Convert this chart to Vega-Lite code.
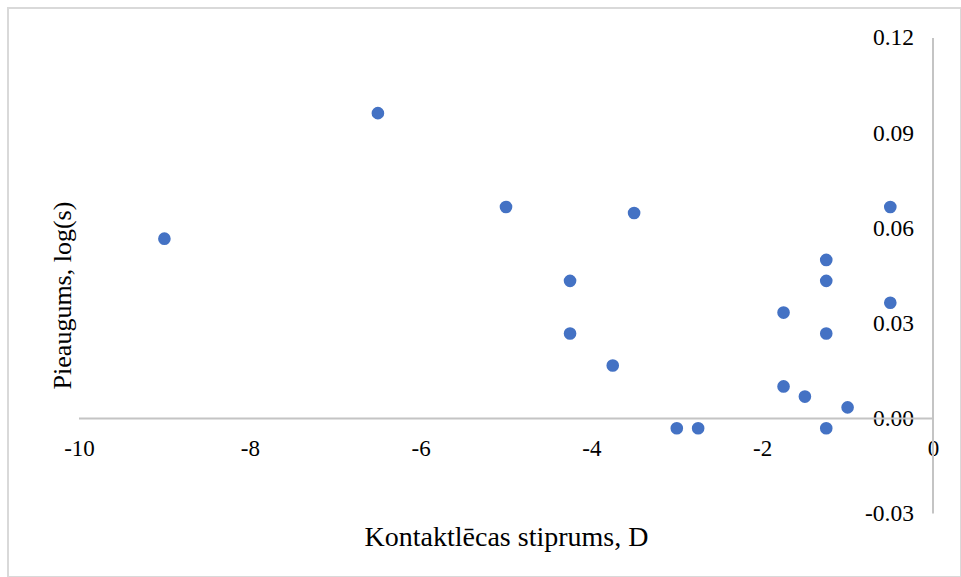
{
  "$schema": "https://vega.github.io/schema/vega-lite/v6.json",
  "width": 953,
  "height": 569,
  "autosize": {"type": "none"},
  "padding": {"left": 8, "top": 8, "right": 0, "bottom": 0},
  "background": "white",
  "config": {
    "view": {"stroke": "#d9d9d9", "strokeWidth": 2},
    "font": "Liberation Serif",
    "locale": {"number": {"decimal": ".", "thousands": ",", "grouping": [3], "currency": ["$", ""], "minus": "-"}}
  },
  "encoding": {
    "x": {
      "field": "x",
      "type": "quantitative",
      "scale": {"domain": [-10.8314, 0.3279], "nice": false, "zero": false},
      "axis": {
        "orient": "bottom",
        "offset": -158.5,
        "values": [-10, -8, -6, -4, -2, 0],
        "format": "d",
        "domain": false,
        "ticks": false,
        "tickSize": 0,
        "grid": false,
        "labelFont": "Liberation Serif",
        "labelFontSize": 23,
        "labelColor": "#000000",
        "labelBaseline": "middle",
        "labelPadding": 29.5,
        "labelOverlap": false,
        "labelFlush": false,
        "labelBound": false,
        "title": "Kontaktlēcas stiprums, D",
        "titleFont": "Liberation Serif",
        "titleFontSize": 28,
        "titleFontWeight": "normal",
        "titleColor": "#000000",
        "titleX": 498,
        "titleY": 118.5,
        "titleAlign": "center",
        "titleBaseline": "middle",
        "titleAngle": 0
      }
    },
    "y": {
      "field": "y",
      "type": "quantitative",
      "scale": {"domain": [-0.05, 0.12946], "nice": false, "zero": false},
      "axis": {
        "orient": "right",
        "offset": -28,
        "values": [-0.03, 0, 0.03, 0.06, 0.09, 0.12],
        "format": ".2f",
        "domain": false,
        "ticks": false,
        "tickSize": 0,
        "grid": false,
        "labelFont": "Liberation Serif",
        "labelFontSize": 23.5,
        "labelColor": "#000000",
        "labelAlign": "right",
        "labelBaseline": "middle",
        "labelPadding": -19.5,
        "labelOverlap": false,
        "labelFlush": false,
        "labelBound": false,
        "title": "Pieaugums, log(s)",
        "titleFont": "Liberation Serif",
        "titleFontSize": 26,
        "titleFontWeight": "normal",
        "titleColor": "#000000",
        "titleX": -871,
        "titleY": 287,
        "titleAngle": -90,
        "titleAlign": "center",
        "titleBaseline": "middle"
      }
    }
  },
  "layer": [
    {
      "data": {"values": [
        {"x": -10, "x2": 0, "y": 0, "y2": 0},
        {"x": 0, "x2": 0, "y": -0.03, "y2": 0.12}
      ]},
      "mark": {"type": "rule", "color": "#c4c4c4", "strokeWidth": 2},
      "encoding": {
        "x2": {"field": "x2"},
        "y2": {"field": "y2"}
      }
    },
    {
      "data": {"values": [
        {"x": -9, "y": 0.0567},
        {"x": -6.5, "y": 0.0963},
        {"x": -5, "y": 0.0667},
        {"x": -3.5, "y": 0.0648},
        {"x": -4.25, "y": 0.0434},
        {"x": -4.25, "y": 0.0268},
        {"x": -3.75, "y": 0.0167},
        {"x": -3, "y": -0.0031},
        {"x": -2.75, "y": -0.0031},
        {"x": -1.75, "y": 0.0334},
        {"x": -1.75, "y": 0.0101},
        {"x": -1.5, "y": 0.0069},
        {"x": -1.25, "y": 0.05},
        {"x": -1.25, "y": 0.0434},
        {"x": -1.25, "y": 0.0268},
        {"x": -1.25, "y": -0.0031},
        {"x": -1, "y": 0.0035},
        {"x": -0.5, "y": 0.0667},
        {"x": -0.5, "y": 0.0365}
      ]},
      "mark": {"type": "circle", "color": "#4472C4", "opacity": 1, "size": 160}
    }
  ]
}
